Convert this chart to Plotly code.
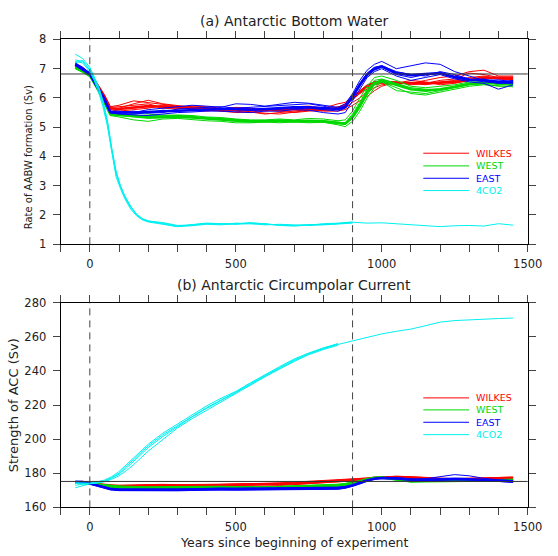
import plotly.graph_objects as go

# ---------------- data ----------------
YEARS = [-50, -25, 0, 25, 50, 70, 100, 150, 200, 250, 300, 350, 400, 450, 500, 550, 600, 650, 700,
         750, 800, 850, 875, 900, 925, 950, 975, 1000, 1050, 1100, 1150, 1200, 1250, 1300, 1350, 1400, 1450]

# (a) AABW formation rate (Sv)
AABW_WILKES_MEAN = [7.10, 7.00, 6.80, 6.45, 6.05, 5.65, 5.62, 5.68, 5.72, 5.70, 5.68, 5.65, 5.62, 5.60, 5.62, 5.60, 5.58, 5.58, 5.62, 5.62, 5.60, 5.65, 5.75, 6.00, 6.20, 6.40, 6.52, 6.55, 6.52, 6.50, 6.50, 6.52, 6.55, 6.62, 6.70, 6.68, 6.65]
AABW_WILKES_1 = [7.05, 6.95, 6.85, 6.50, 6.10, 5.70, 5.75, 5.90, 5.85, 5.78, 5.72, 5.70, 5.65, 5.55, 5.50, 5.52, 5.45, 5.50, 5.55, 5.60, 5.65, 5.80, 5.85, 6.05, 6.25, 6.45, 6.55, 6.58, 6.55, 6.45, 6.50, 6.60, 6.65, 6.85, 6.80, 6.70, 6.72]
AABW_WILKES_2 = [7.15, 7.05, 6.80, 6.40, 6.00, 5.60, 5.55, 5.60, 5.65, 5.75, 5.70, 5.60, 5.55, 5.62, 5.68, 5.65, 5.55, 5.62, 5.70, 5.72, 5.65, 5.60, 5.65, 5.85, 6.00, 6.20, 6.35, 6.45, 6.50, 6.60, 6.55, 6.45, 6.50, 6.60, 6.65, 6.72, 6.70]
AABW_WILKES_3 = [7.05, 6.98, 6.75, 6.48, 6.08, 5.68, 5.70, 5.75, 5.80, 5.65, 5.62, 5.72, 5.70, 5.65, 5.55, 5.50, 5.60, 5.55, 5.50, 5.55, 5.58, 5.70, 5.72, 5.95, 6.15, 6.30, 6.45, 6.50, 6.48, 6.52, 6.45, 6.55, 6.60, 6.70, 6.75, 6.65, 6.60]
AABW_WILKES_4 = [7.12, 7.02, 6.82, 6.42, 6.02, 5.62, 5.65, 5.80, 5.92, 5.80, 5.75, 5.68, 5.58, 5.55, 5.58, 5.52, 5.48, 5.45, 5.52, 5.58, 5.55, 5.55, 5.60, 5.75, 5.90, 6.05, 6.25, 6.40, 6.55, 6.50, 6.60, 6.70, 6.75, 6.90, 6.95, 6.75, 6.75]

AABW_WEST_MEAN = [7.05, 6.92, 6.78, 6.35, 5.88, 5.45, 5.42, 5.38, 5.35, 5.35, 5.36, 5.33, 5.30, 5.27, 5.22, 5.20, 5.20, 5.22, 5.20, 5.22, 5.20, 5.15, 5.12, 5.35, 5.75, 6.20, 6.50, 6.60, 6.45, 6.30, 6.25, 6.30, 6.38, 6.48, 6.52, 6.50, 6.48]
AABW_WEST_1 = [7.10, 6.98, 6.80, 6.38, 5.92, 5.50, 5.50, 5.48, 5.45, 5.40, 5.42, 5.40, 5.35, 5.33, 5.28, 5.25, 5.25, 5.28, 5.25, 5.30, 5.28, 5.22, 5.25, 5.55, 6.00, 6.40, 6.70, 6.75, 6.60, 6.40, 6.35, 6.40, 6.45, 6.55, 6.55, 6.45, 6.50]
AABW_WEST_2 = [7.00, 6.88, 6.72, 6.30, 5.82, 5.40, 5.35, 5.25, 5.20, 5.28, 5.30, 5.25, 5.22, 5.20, 5.15, 5.15, 5.18, 5.15, 5.18, 5.15, 5.17, 5.08, 5.02, 5.20, 5.55, 6.00, 6.35, 6.55, 6.35, 6.15, 6.10, 6.20, 6.30, 6.40, 6.45, 6.42, 6.38]
AABW_WEST_3 = [7.08, 6.95, 6.75, 6.33, 5.86, 5.47, 5.45, 5.40, 5.38, 5.42, 5.38, 5.35, 5.32, 5.30, 5.25, 5.22, 5.22, 5.20, 5.22, 5.20, 5.22, 5.18, 5.15, 5.45, 5.85, 6.30, 6.60, 6.65, 6.50, 6.35, 6.30, 6.28, 6.40, 6.50, 6.50, 6.52, 6.55]
AABW_WEST_4 = [7.02, 6.90, 6.76, 6.32, 5.85, 5.42, 5.40, 5.35, 5.30, 5.32, 5.40, 5.38, 5.28, 5.25, 5.20, 5.22, 5.20, 5.25, 5.20, 5.18, 5.20, 5.12, 5.10, 5.30, 5.65, 6.10, 6.45, 6.55, 6.25, 6.20, 6.15, 6.25, 6.35, 6.45, 6.48, 6.40, 6.42]

AABW_EAST_MEAN = [7.15, 7.00, 6.82, 6.40, 5.95, 5.52, 5.50, 5.50, 5.52, 5.55, 5.58, 5.60, 5.62, 5.62, 5.62, 5.60, 5.62, 5.65, 5.68, 5.68, 5.65, 5.62, 5.70, 6.05, 6.45, 6.80, 7.00, 7.08, 6.85, 6.78, 6.82, 6.85, 6.72, 6.62, 6.60, 6.55, 6.55]
AABW_EAST_1 = [7.20, 7.05, 6.85, 6.45, 6.00, 5.55, 5.55, 5.50, 5.60, 5.65, 5.70, 5.75, 5.72, 5.68, 5.80, 5.78, 5.72, 5.78, 5.85, 5.82, 5.75, 5.68, 5.80, 6.15, 6.60, 6.95, 7.15, 7.25, 7.00, 7.10, 7.20, 7.15, 6.90, 6.75, 6.60, 6.62, 6.55]
AABW_EAST_2 = [7.10, 6.95, 6.78, 6.35, 5.90, 5.48, 5.45, 5.42, 5.40, 5.45, 5.50, 5.52, 5.55, 5.55, 5.52, 5.50, 5.55, 5.55, 5.60, 5.58, 5.50, 5.45, 5.50, 5.90, 6.30, 6.70, 6.90, 7.00, 6.75, 6.60, 6.70, 6.80, 6.65, 6.55, 6.50, 6.30, 6.45]
AABW_EAST_3 = [7.18, 7.02, 6.84, 6.42, 5.97, 5.53, 5.50, 5.55, 5.48, 5.50, 5.62, 5.65, 5.68, 5.70, 5.65, 5.68, 5.70, 5.72, 5.75, 5.80, 5.72, 5.60, 5.65, 6.10, 6.50, 6.85, 7.05, 7.10, 6.90, 6.80, 6.75, 6.90, 6.80, 6.65, 6.55, 6.50, 6.60]
AABW_EAST_4 = [7.12, 6.98, 6.80, 6.38, 5.93, 5.50, 5.45, 5.45, 5.50, 5.58, 5.55, 5.58, 5.60, 5.62, 5.60, 5.58, 5.60, 5.62, 5.65, 5.65, 5.60, 5.55, 5.65, 6.00, 6.40, 6.75, 6.95, 7.05, 6.80, 6.70, 6.80, 6.85, 6.70, 6.60, 6.65, 6.50, 6.50]

CO2_YEARS_A = [-50, -25, 0, 15, 30, 45, 60, 75, 90, 105, 120, 140, 160, 180, 200, 250, 300, 350, 400, 450,
               500, 550, 600, 650, 700, 750, 800, 850, 900, 950, 1000, 1050, 1100, 1150, 1200, 1250, 1300, 1350, 1400, 1450]
AABW_CO2_1 = [7.30, 7.25, 6.95, 6.65, 6.30, 5.80, 5.15, 4.20, 3.40, 2.95, 2.60, 2.25, 2.00, 1.85, 1.78, 1.72, 1.62, 1.65, 1.70, 1.68,
              1.70, 1.72, 1.68, 1.66, 1.63, 1.66, 1.68, 1.70, 1.75, 1.72, 1.73, 1.70, 1.68, 1.63, 1.60, 1.63, 1.64, 1.62, 1.70, 1.65]
AABW_CO2_2 = [7.50, 7.35, 7.05, 6.75, 6.40, 5.90, 5.25, 4.30, 3.50, 3.00, 2.65, 2.30, 2.02, 1.88, 1.80, 1.70, 1.60, 1.67, 1.72, 1.70,
              1.68, 1.70, 1.70, 1.64, 1.62, 1.65, 1.70, 1.72, 1.76]
AABW_CO2_3 = [7.25, 7.20, 6.90, 6.60, 6.20, 5.70, 5.05, 4.10, 3.30, 2.90, 2.55, 2.20, 1.97, 1.83, 1.76, 1.68, 1.60, 1.63, 1.68, 1.66,
              1.72, 1.70, 1.66, 1.68, 1.65, 1.64, 1.66, 1.69, 1.72]
AABW_CO2_4 = [7.20, 7.28, 7.00, 6.70, 6.35, 5.85, 5.20, 4.25, 3.45, 2.98, 2.62, 2.28, 2.03, 1.86, 1.79, 1.74, 1.64, 1.66, 1.71, 1.70,
              1.69, 1.74, 1.69, 1.65, 1.64, 1.67, 1.67, 1.71, 1.74]

# (b) ACC strength (Sv)
ACC_WILKES_MEAN = [174.5, 174.8, 174.0, 173.5, 173.0, 172.5, 172.3, 172.5, 172.8, 173.0, 172.8, 172.5, 172.8, 173.0, 173.0, 173.0, 173.2, 173.5, 174.0, 174.5, 174.8, 175.5, 175.8, 176.0, 176.3, 176.8, 177.3, 177.5, 177.8, 177.5, 177.0, 176.5, 176.5, 176.8, 177.0, 177.0, 177.2]
ACC_WILKES_1 = [174.2, 174.5, 174.2, 173.8, 173.3, 173.0, 173.0, 173.2, 173.5, 173.5, 173.3, 173.2, 173.5, 173.6, 173.7, 173.8, 174.0, 174.3, 174.8, 175.3, 175.6, 176.2, 176.5, 176.6, 176.8, 177.2, 177.6, 177.8, 178.2, 178.0, 177.5, 177.0, 176.8, 177.0, 177.3, 177.5, 177.8]
ACC_WILKES_2 = [174.8, 174.6, 173.8, 173.2, 172.5, 172.0, 171.8, 171.8, 172.0, 172.3, 172.2, 172.0, 172.2, 172.5, 172.4, 172.3, 172.5, 172.8, 173.3, 173.8, 174.2, 175.0, 175.3, 175.5, 175.8, 176.3, 176.8, 177.2, 177.5, 177.2, 176.8, 176.2, 176.0, 176.3, 176.5, 176.5, 176.6]
ACC_WILKES_3 = [174.3, 174.9, 174.1, 173.6, 173.1, 172.8, 172.6, 172.9, 173.1, 173.3, 173.0, 172.8, 173.1, 173.3, 173.4, 173.3, 173.6, 173.9, 174.3, 174.8, 175.2, 175.9, 176.1, 176.2, 176.5, 177.0, 177.4, 177.6, 178.0, 177.8, 177.2, 176.7, 176.6, 176.6, 177.0, 177.2, 177.5]

ACC_WEST_MEAN = [174.5, 174.5, 174.0, 173.5, 172.8, 172.3, 171.8, 171.5, 171.3, 171.5, 171.5, 171.8, 171.8, 171.8, 171.5, 171.5, 171.5, 171.8, 172.0, 172.3, 172.5, 173.0, 173.5, 174.2, 175.3, 176.5, 177.3, 177.5, 176.5, 175.3, 175.5, 175.5, 175.8, 175.8, 175.5, 175.8, 176.0]
ACC_WEST_1 = [174.6, 174.4, 174.1, 173.8, 173.3, 172.9, 172.6, 172.3, 172.0, 172.2, 172.3, 172.5, 172.5, 172.4, 172.2, 172.1, 172.2, 172.4, 172.6, 172.9, 173.2, 173.6, 174.0, 174.6, 175.6, 176.8, 177.6, 177.8, 177.0, 175.8, 175.9, 176.0, 176.3, 176.2, 176.0, 176.2, 176.5]
ACC_WEST_2 = [174.4, 174.6, 173.9, 173.2, 172.3, 171.6, 171.0, 170.6, 170.4, 170.6, 170.8, 171.0, 171.1, 171.2, 170.9, 170.8, 170.9, 171.2, 171.4, 171.7, 171.9, 172.4, 173.0, 173.8, 175.0, 176.2, 177.0, 177.2, 176.0, 174.8, 175.0, 175.0, 175.3, 175.4, 175.0, 175.3, 175.5]
ACC_WEST_3 = [174.5, 174.5, 174.0, 173.5, 172.8, 172.4, 172.0, 171.8, 171.6, 171.8, 171.6, 171.9, 171.9, 171.9, 171.6, 171.6, 171.5, 171.8, 172.1, 172.4, 172.6, 173.1, 173.6, 174.3, 175.4, 176.6, 177.4, 177.6, 176.6, 175.3, 175.6, 175.4, 175.9, 175.8, 175.6, 175.9, 176.1]

ACC_EAST_MEAN = [175.0, 174.8, 174.0, 173.0, 171.8, 170.8, 170.3, 170.2, 170.3, 170.2, 170.3, 170.5, 170.8, 170.8, 170.7, 170.8, 170.8, 170.8, 171.0, 171.2, 171.3, 171.3, 171.8, 172.8, 174.3, 175.8, 176.8, 177.2, 177.0, 176.3, 176.2, 176.5, 176.8, 176.5, 176.2, 175.8, 175.2]
ACC_EAST_1 = [175.1, 174.9, 174.2, 173.3, 172.2, 171.3, 170.8, 170.7, 170.8, 170.7, 170.8, 171.0, 171.3, 171.3, 171.2, 171.3, 171.3, 171.3, 171.5, 171.7, 171.8, 171.9, 172.3, 173.3, 174.8, 176.2, 177.1, 177.5, 177.3, 176.7, 176.8, 177.8, 179.2, 178.5, 177.0, 176.2, 175.8]
ACC_EAST_2 = [174.9, 174.7, 173.8, 172.6, 171.3, 170.3, 169.8, 169.7, 169.8, 169.6, 169.7, 169.9, 170.2, 170.2, 170.1, 170.2, 170.2, 170.3, 170.4, 170.6, 170.7, 170.6, 171.2, 172.3, 173.8, 175.4, 176.5, 176.9, 176.6, 175.8, 175.6, 175.8, 176.0, 176.0, 175.8, 175.2, 174.6]
ACC_EAST_3 = [175.0, 174.8, 174.0, 172.9, 171.7, 170.7, 170.2, 170.0, 170.2, 170.1, 170.2, 170.4, 170.7, 170.6, 170.6, 170.7, 170.8, 170.7, 171.0, 171.2, 171.4, 171.4, 171.8, 172.8, 174.3, 175.8, 176.8, 177.1, 176.9, 176.3, 176.2, 176.4, 176.7, 176.3, 176.1, 175.8, 175.2]

CO2_YEARS_B = [-50, -25, 0, 25, 50, 75, 100, 125, 150, 200, 250, 300, 350, 400, 450, 500, 550, 600, 650, 700,
               750, 800, 850, 900, 950, 1000, 1050, 1100, 1150, 1200, 1250, 1300, 1350, 1400, 1450]
ACC_CO2_1 = [174.5, 174.3, 174.0, 174.5, 175.3, 177.0, 179.5, 183.0, 187.0, 195.0, 201.5, 207.5, 213.0, 218.0, 222.5, 227.0, 232.0, 237.0, 241.5, 246.0,
             250.0, 253.0, 255.5, 257.5, 259.5, 261.7, 263.2, 264.5, 266.5, 268.6, 269.5, 270.0, 270.3, 270.7, 271.0]
ACC_CO2_2 = [171.5, 172.5, 173.8, 174.3, 175.0, 176.5, 178.5, 181.5, 185.0, 193.0, 200.0, 206.5, 212.0, 217.0, 221.5, 226.5, 231.5, 236.5, 241.0, 245.5,
             249.5, 252.5, 255.0]
ACC_CO2_3 = [174.0, 174.2, 174.2, 175.0, 176.0, 178.0, 181.0, 185.0, 189.0, 197.0, 203.5, 209.0, 214.5, 219.5, 224.0, 228.0, 233.0, 238.0, 242.5, 247.0,
             250.5, 253.5, 256.0]
ACC_CO2_4 = [173.0, 173.5, 174.0, 174.5, 175.5, 177.5, 180.0, 184.0, 188.0, 196.0, 202.5, 208.0, 213.5, 218.5, 223.0, 227.5, 232.5, 237.5, 242.0, 246.5,
             250.2, 253.2, 255.8]

# reference values
CONTROL_AABW = 6.82
CONTROL_ACC = 175.2
EXPERIMENT_MARKS = [0, 900]
X_TICKS = list(range(-100, 1501, 100))
X_LABELS = [str(v) if (v >= 0 and v % 500 == 0) else "" for v in X_TICKS]
Y_TICKS_A = list(range(1, 9))
Y_TICKS_B = list(range(160, 281, 20))

LABELS = ["WILKES", "WEST", "EAST", "4CO2"]
COLORS = {"WILKES": "#ff0000", "WEST": "#00d800", "EAST": "#0000ff", "4CO2": "#00f0f0"}

# ---------------- figure ----------------
W, H = 558, 556
fig = go.Figure()


def add_group(xs_list, ys_list, mean_idx, color, xa, ya, thick=2.6):
    for i, (xs, ys) in enumerate(zip(xs_list, ys_list)):
        fig.add_trace(go.Scatter(
            x=xs[:len(ys)], y=ys, mode="lines", xaxis=xa, yaxis=ya,
            line=dict(color=color, width=(thick if i == mean_idx else 1.0)),
            showlegend=False, hoverinfo="skip"))


# panel (a)
add_group([YEARS] * 5, [AABW_WILKES_1, AABW_WILKES_2, AABW_WILKES_3, AABW_WILKES_4, AABW_WILKES_MEAN], 4, COLORS["WILKES"], "x", "y")
add_group([YEARS] * 5, [AABW_WEST_1, AABW_WEST_2, AABW_WEST_3, AABW_WEST_4, AABW_WEST_MEAN], 4, COLORS["WEST"], "x", "y")
add_group([YEARS] * 5, [AABW_EAST_1, AABW_EAST_2, AABW_EAST_3, AABW_EAST_4, AABW_EAST_MEAN], 4, COLORS["EAST"], "x", "y")
add_group([CO2_YEARS_A] * 4, [AABW_CO2_2, AABW_CO2_3, AABW_CO2_4, AABW_CO2_1], -1, COLORS["4CO2"], "x", "y")

# panel (b)
add_group([YEARS] * 4, [ACC_WILKES_1, ACC_WILKES_2, ACC_WILKES_3, ACC_WILKES_MEAN], 3, COLORS["WILKES"], "x2", "y2")
add_group([YEARS] * 4, [ACC_WEST_1, ACC_WEST_2, ACC_WEST_3, ACC_WEST_MEAN], 3, COLORS["WEST"], "x2", "y2")
add_group([YEARS] * 4, [ACC_EAST_1, ACC_EAST_2, ACC_EAST_3, ACC_EAST_MEAN], 3, COLORS["EAST"], "x2", "y2")
add_group([CO2_YEARS_B] * 4, [ACC_CO2_2, ACC_CO2_3, ACC_CO2_4, ACC_CO2_1], -1, COLORS["4CO2"], "x2", "y2")

# plot-area geometry (pixels)
PX_L, PX_R = 62.3, 542.3
A_TOP, A_BOT = 33.3, 243.3
B_TOP, B_BOT = 303.3, 513.3
xdom = [PX_L / W, PX_R / W]
ydom_a = [1 - A_BOT / H, 1 - A_TOP / H]
ydom_b = [1 - B_BOT / H, 1 - B_TOP / H]

tickfont = dict(family="DejaVu Sans", size=11.5, color="#222222")
axis_common = dict(showline=True, linecolor="black", linewidth=1, mirror="ticks",
                   ticks="outside", ticklen=7, tickcolor="#444444", tickwidth=1,
                   showgrid=False, zeroline=False, tickfont=tickfont, fixedrange=True)

fig.update_layout(
    width=W, height=H, margin=dict(l=0, r=0, t=0, b=0, pad=0),
    paper_bgcolor="white", plot_bgcolor="white", showlegend=False,
    xaxis=dict(domain=xdom, range=[-100, 1500], tickvals=X_TICKS, ticktext=X_LABELS, anchor="y",
               ticklabelstandoff=2, **axis_common),
    yaxis=dict(domain=ydom_a, range=[1, 8], tickvals=Y_TICKS_A, anchor="x", ticklabelstandoff=4, **axis_common),
    xaxis2=dict(domain=xdom, range=[-100, 1500], tickvals=X_TICKS, ticktext=X_LABELS, anchor="y2",
                ticklabelstandoff=2, **axis_common),
    yaxis2=dict(domain=ydom_b, range=[160, 280], tickvals=Y_TICKS_B, anchor="x2", ticklabelstandoff=4, **axis_common),
)

# reference lines
for xa, ya, yv in [("x", "y", CONTROL_AABW), ("x2", "y2", CONTROL_ACC)]:
    fig.add_shape(type="line", xref=xa + " domain", yref=ya, x0=0, x1=1, y0=yv, y1=yv,
                  line=dict(color="#333333", width=1))
    for xm in EXPERIMENT_MARKS:
        fig.add_shape(type="line", xref=xa, yref=ya + " domain", x0=xm, x1=xm, y0=0, y1=1,
                      line=dict(color="#444444", width=1, dash="7px,5px"))

# titles
title_font = dict(family="DejaVu Sans", size=14, color="#222222")
fig.add_annotation(text="(a) Antarctic Bottom Water", xref="paper", yref="paper",
                   x=(PX_L + PX_R) / 2 / W, y=1 - 14 / H, xanchor="center", yanchor="middle",
                   showarrow=False, font=title_font)
fig.add_annotation(text="(b) Antarctic Circumpolar Current", xref="paper", yref="paper",
                   x=(PX_L + PX_R) / 2 / W, y=1 - 285.5 / H, xanchor="center", yanchor="middle",
                   showarrow=False, font=title_font)
fig.add_annotation(text="Years since beginning of experiment", xref="paper", yref="paper",
                   x=(PX_L + PX_R) / 2 / W, y=1 - 549 / H, xanchor="center", yanchor="middle",
                   showarrow=False, font=dict(family="DejaVu Sans", size=12.5, color="#222222"))
fig.add_annotation(text="Rate of AABW formation (Sv)", xref="paper", yref="paper",
                   x=29 / W, y=1 - 154 / H, xanchor="center", yanchor="middle", textangle=-90,
                   showarrow=False, font=dict(family="DejaVu Sans", size=10, color="#222222"))
fig.add_annotation(text="Strength of ACC (Sv)", xref="paper", yref="paper",
                   x=14 / W, y=1 - 409 / H, xanchor="center", yanchor="middle", textangle=-90,
                   showarrow=False, font=dict(family="DejaVu Sans", size=13, color="#222222"))

# legends (line sample + coloured label)
LEG_X0, LEG_X1, LEG_TX = 435, 482, 487
for rows in ([150, 163, 175.7, 188.3], [401, 413.3, 426, 438.7]):
    for lab, py in zip(LABELS, rows):
        fig.add_shape(type="line", xref="paper", yref="paper",
                      x0=LEG_X0 / W, x1=LEG_X1 / W, y0=1 - py / H, y1=1 - py / H,
                      line=dict(color=COLORS[lab], width=1))
        fig.add_annotation(text=lab, xref="paper", yref="paper", x=LEG_TX / W, y=1 - py / H,
                           xanchor="left", yanchor="middle", showarrow=False,
                           font=dict(family="DejaVu Sans", size=9.5, color=COLORS[lab]))

fig.write_html("out.html", config={"displayModeBar": False, "staticPlot": True})

# remove default page margins so the figure sits at the window origin
with open("out.html", "r", encoding="utf-8") as f:
    html = f.read()
html = html.replace("<head>", "<head><style>html,body{margin:0;padding:0;overflow:hidden;}</style>", 1)
with open("out.html", "w", encoding="utf-8") as f:
    f.write(html)
